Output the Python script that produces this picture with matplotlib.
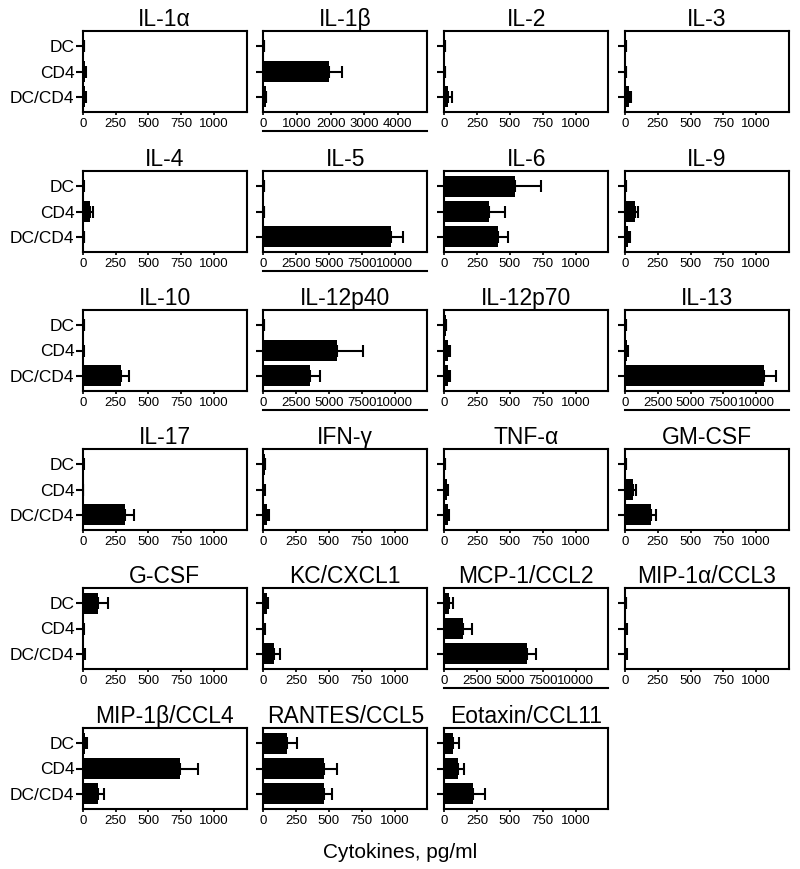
import matplotlib
matplotlib.use('Agg')
import matplotlib.pyplot as plt
from matplotlib.lines import Line2D

plt.rcParams['font.family'] = ['Liberation Sans', 'DejaVu Sans']

groups = ['DC', 'CD4', 'DC/CD4']

cytokines = ['IL-1α', 'IL-1β', 'IL-2', 'IL-3',
             'IL-4', 'IL-5', 'IL-6', 'IL-9',
             'IL-10', 'IL-12p40', 'IL-12p70', 'IL-13',
             'IL-17', 'IFN-γ', 'TNF-α', 'GM-CSF',
             'G-CSF', 'KC/CXCL1', 'MCP-1/CCL2', 'MIP-1α/CCL3',
             'MIP-1β/CCL4', 'RANTES/CCL5', 'Eotaxin/CCL11']

# mean pg/ml for DC, CD4, DC/CD4
means = [[10, 20, 18], [15, 1950, 70], [5, 5, 30], [5, 5, 30],
         [5, 55, 8], [50, 50, 9750], [542, 340, 410], [8, 75, 25],
         [10, 5, 290], [50, 5600, 3550], [10, 30, 30], [80, 150, 10600],
         [5, 3, 320], [10, 8, 25], [3, 20, 25], [8, 60, 195],
         [120, 5, 10], [25, 8, 85], [350, 1420, 6280], [8, 10, 10],
         [20, 745, 120], [180, 460, 460], [70, 105, 220]]

# upper error (SEM)
errors = [[3, 8, 5], [5, 380, 20], [2, 2, 25], [2, 2, 12],
          [2, 25, 3], [20, 20, 930], [194, 120, 75], [3, 25, 15],
          [3, 2, 65], [20, 1970, 750], [3, 15, 15], [30, 60, 900],
          [2, 1, 70], [3, 3, 15], [1, 10, 10], [3, 22, 40],
          [70, 2, 4], [10, 3, 40], [300, 680, 680], [3, 3, 3],
          [10, 135, 45], [75, 105, 60], [40, 45, 90]]

# x-axis scale per panel: 's' = 0-1250, 'b' = 0-4875, 'w' = 0-12500
scales = ['s', 'b', 's', 's',
          's', 'w', 's', 's',
          's', 'w', 's', 'w',
          's', 's', 's', 's',
          's', 's', 'w', 's',
          's', 's', 's']

scale_lim = {'s': 1250, 'b': 4875, 'w': 12500}
scale_ticks = {'s': [0, 250, 500, 750, 1000],
               'b': [0, 1000, 2000, 3000, 4000],
               'w': [0, 2500, 5000, 7500, 10000]}

W, H = 800, 869
fig = plt.figure(figsize=(W / 100, H / 100), dpi=100)

col_left = [82.7, 263.3, 444.3, 625]
row_top = [31, 171, 310, 449, 588, 728]
ax_w, ax_h = 164, 81

ypos = [0, 1, 2]
for i, name in enumerate(cytokines):
    r, c = divmod(i, 4)
    ax = fig.add_axes([col_left[c] / W, 1 - (row_top[r] + ax_h) / H, ax_w / W, ax_h / H])
    ax.barh(ypos, means[i], height=0.82, color='black', zorder=2)
    ax.errorbar(means[i], ypos, xerr=[[0, 0, 0], errors[i]], fmt='none',
                ecolor='black', elinewidth=1.5, capsize=4.5, capthick=1.5, zorder=3)
    sc = scales[i]
    ax.set_xlim(0, scale_lim[sc])
    ax.set_xticks(scale_ticks[sc])
    ax.set_ylim(2.6, -0.6)
    ax.set_yticks(ypos)
    if c == 0:
        ax.set_yticklabels(groups, fontsize=12.5)
    else:
        ax.set_yticklabels([])
    ax.tick_params(axis='y', length=5, width=1.5, pad=1)
    ax.tick_params(axis='x', length=2, width=1.2, labelsize=9.5, pad=2)
    for s in ax.spines.values():
        s.set_linewidth(1.5)
    ax.set_title(name, fontsize=16.5, pad=3)
    if sc != 's':
        ax.add_line(Line2D([0, 1], [-0.235, -0.235], transform=ax.transAxes,
                           color='black', lw=1.5, clip_on=False))

fig.text(0.5, 1 - 853 / H, 'Cytokines, pg/ml', ha='center', va='center', fontsize=15)

fig.savefig('out.png', dpi=100)
